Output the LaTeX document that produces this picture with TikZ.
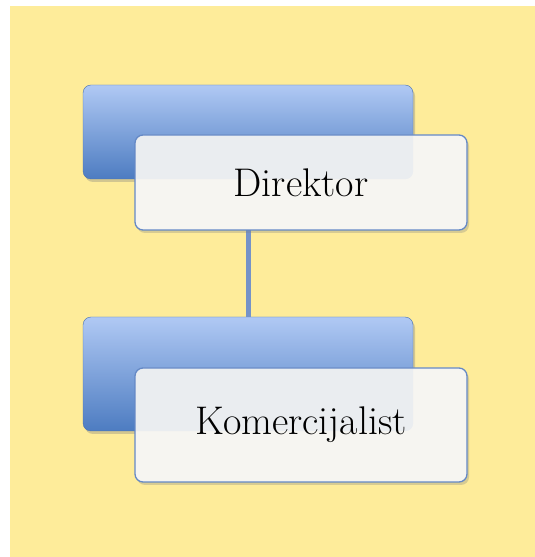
\documentclass[tikz,border=0pt]{standalone}
\usepackage{tikz}
\usepackage{xcolor}
\usetikzlibrary{shadows}
\definecolor{chartyellow}{HTML}{FEEC9A}
\definecolor{boxtop}{HTML}{B0C9F4}
\definecolor{boxmid}{HTML}{97B5EA}
\definecolor{boxbottom}{HTML}{4D7CC1}
\definecolor{boxedge}{HTML}{4A72B0}
\definecolor{cardfill}{HTML}{F6F5F1}
\definecolor{cardedge}{HTML}{6589C6}
\definecolor{linkblue}{HTML}{7593C8}
\tikzset{
    back-box/.style = {draw=boxedge, thin, rectangle, rounded corners=8pt, inner sep=0pt,
        minimum width=330pt, top color=boxtop, middle color=boxmid, bottom color=boxbottom,
        drop shadow={shadow xshift=2pt, shadow yshift=-3pt, opacity=0.35}},
    name-card/.style = {draw=cardedge, line width=1.3pt, fill=cardfill,
        rectangle, rounded corners=8pt, inner sep=0pt, minimum width=332pt,
        font=\fontsize{40}{44}\selectfont,
        path picture={\fill[boxmid, opacity=0.12, rounded corners=8pt]
            (#1.south west) rectangle (#1.north east);},
        drop shadow={shadow xshift=2pt, shadow yshift=-3pt, opacity=0.3}},
    link-line/.style = {draw=linkblue, line width=5pt},
}
\begin{document}
\begin{tikzpicture}
\useasboundingbox (0,0) rectangle (535pt,557pt);
\fill[chartyellow] (10pt,0) rectangle (535pt,551pt);
% back boxes
\node[back-box, minimum height=94pt] (boss-back) at (248pt,425pt) {};
\node[back-box, minimum height=114pt] (clerk-back) at (248pt,183pt) {};
\draw[link-line] (boss-back.south) -- (clerk-back.north);
% cards with the titles
\node[name-card=boss-back, minimum height=95pt] (boss) at (301pt,374.5pt) {Direktor};
\node[name-card=clerk-back, minimum height=114pt] (clerk) at (301pt,132pt) {Komercijalist};
\end{tikzpicture}
\end{document}
